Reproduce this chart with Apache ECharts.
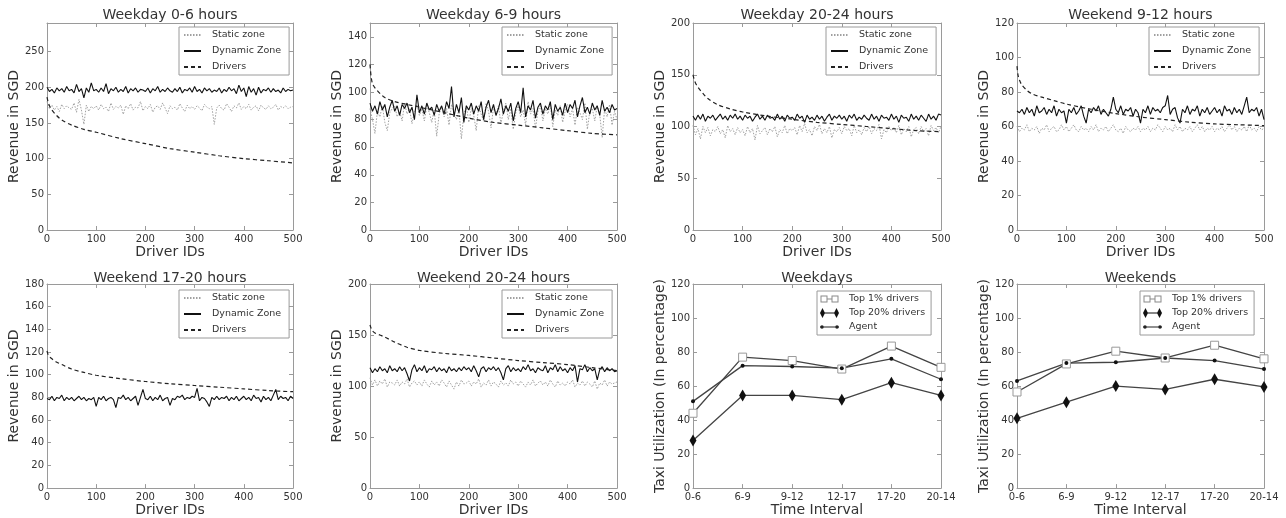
<!DOCTYPE html>
<html><head><meta charset="utf-8">
<script src="https://cdn.jsdelivr.net/npm/echarts@6/dist/echarts.min.js"></script>
<style>html,body{margin:0;padding:0;background:#fff}#c{width:1286px;height:518px}</style>
</head><body><div id="c"></div><script>
// ---------- DATA ----------
const driverIds = [0,5,10,15,20,25,30,35,40,45,50,55,60,65,70,75,80,85,90,95,100,105,110,115,120,125,130,135,140,145,150,155,160,165,170,175,180,185,190,195,200,205,210,215,220,225,230,235,240,245,250,255,260,265,270,275,280,285,290,295,300,305,310,315,320,325,330,335,340,345,350,355,360,365,370,375,380,385,390,395,400,405,410,415,420,425,430,435,440,445,450,455,460,465,470,475,480,485,490,495,500];
const driverCurveIds = [0,2,5,10,20,30,50,75,100,150,200,250,300,350,400,450,500];

const wd06Static = [180,170,175,168,173,166,176,170,174,171, 169,178,165,183,168,148,175,166,173,170, 174,168,176,170,172,166,178,169,173,171, 175,162,174,170,177,168,172,171,180,167, 173,170,176,165,172,174,169,178,171,163, 174,170,172,168,177,171,166,175,170,173, 169,174,171,167,176,172,170,173,148,171, 175,170,168,177,172,166,174,171,178,169, 173,170,176,168,172,174,167,175,171,169, 174,170,172,176,168,173,171,174,170,172, 173];
const wd06Dynamic = [200,194,197,192,199,195,198,193,201,195, 197,192,204,194,198,185,199,193,206,195, 197,193,199,194,205,191,198,195,200,193, 197,194,201,192,198,195,199,193,197,196, 194,199,192,198,195,201,193,197,194,199, 195,193,198,194,200,192,197,195,199,193, 201,194,197,192,199,195,198,193,196,194, 199,192,197,194,200,195,198,191,203,194, 199,187,201,193,198,189,200,192,197,195, 199,193,198,194,196,192,199,194,197,195, 196];
const wd06Drivers = [186,180,174,168,160,154,147,141,137,128,121,114,109,104,100,97,94];

const wd69Static = [88,80,70,86,82,90,78,72,85,88, 90,82,86,79,92,84,88,77,86,91, 83,88,79,90,85,78,87,68,84,89, 82,88,76,91,85,80,87,66,84,90, 78,88,83,72,90,84,79,92,86,74, 89,83,90,77,86,92,80,88,73,85, 90,82,87,76,93,84,88,74,86,90, 79,88,84,91,75,87,83,90,78,86, 91,82,88,76,89,85,80,92,73,86, 88,79,90,84,67,88,82,91,76,86, 80];
const wd69Dynamic = [92,86,90,84,93,87,91,82,89,94, 86,90,83,91,88,92,85,89,80,98, 85,90,84,92,87,89,83,91,86,90, 84,93,88,104,82,91,85,96,78,90, 87,92,84,90,86,93,80,89,94,85, 91,83,88,95,84,90,86,92,79,88, 93,85,103,82,90,87,94,81,89,92, 84,90,87,93,80,91,86,89,83,92, 85,91,88,94,82,90,96,85,89,84, 92,87,90,83,94,86,89,85,91,87, 88];
const wd69Drivers = [120,112,106,103,99,96,93,91,89,85,81,78,76,74,72,70,69];

const wd2024Static = [101,92,98,88,100,94,99,91,97,95, 100,93,97,89,101,95,98,92,99,94, 97,91,100,94,98,87,101,93,96,99, 92,98,95,100,90,97,94,101,93,98, 96,99,92,101,95,103,94,97,91,100, 96,102,93,98,94,100,89,97,95,99, 93,100,96,98,91,101,94,97,92,99, 95,100,93,98,96,102,88,97,94,100, 96,99,94,101,92,98,95,100,90,97, 99,93,100,95,98,91,101,96,99,94, 100];
const wd2024Dynamic = [110,106,111,107,112,105,110,108,111,106, 109,112,107,110,106,111,108,112,107,110, 106,111,108,110,105,109,112,107,110,106, 111,108,109,106,112,107,110,105,111,108, 109,106,112,108,110,104,111,107,109,106, 111,107,110,105,109,112,106,110,108,111, 107,110,105,111,108,112,106,109,107,111, 108,106,112,107,110,105,111,108,109,106, 112,107,110,104,111,108,109,105,112,107, 110,106,111,108,105,112,107,110,106,112, 111];
const wd2024Drivers = [150,146,142,138,132,127,121,117,114,110,107,104,102,100,98,96,95];

const we912Static = [60,57,59,58,61,57,59,58,60,56, 59,58,61,57,59,60,57,58,61,58, 60,57,59,61,58,57,60,58,59,57, 60,58,61,57,59,58,60,57,59,61, 58,57,59,56,60,58,57,59,58,60, 57,59,58,60,57,59,58,61,59,57, 60,58,59,57,61,58,60,57,59,58, 60,57,59,61,58,60,57,59,58,60, 57,59,58,60,57,59,61,58,60,57, 59,58,60,57,61,58,59,57,60,58, 59];
const we912Dynamic = [69,68,70,67,71,68,70,66,72,68, 69,71,67,70,68,72,66,70,68,69, 62,70,68,71,67,69,72,66,62,70, 68,71,69,72,67,70,68,66,70,77, 70,68,72,67,70,69,71,66,70,68, 62,70,68,72,67,71,69,70,68,71, 72,78,67,70,71,65,62,70,68,72, 67,70,69,72,66,70,68,71,67,69, 71,68,70,66,72,69,70,67,71,68, 70,67,72,77,68,70,69,71,66,70, 64];
const we912Drivers = [95,90,87,84,81,79,77,75,73,70,67.5,65.5,64,62.5,61.5,61,60.5];

const we1720Dynamic = [79,78,81,77,80,79,82,77,80,78, 80,77,79,81,78,80,77,79,78,80, 72,80,78,81,77,79,80,78,71,80, 79,82,78,80,77,79,81,73,80,87, 79,78,81,77,80,78,82,77,79,80, 73,79,78,81,80,82,78,80,79,81, 80,88,77,80,79,76,72,80,78,81, 78,80,79,81,77,80,78,81,77,79, 81,78,80,77,82,79,80,76,81,78, 80,77,82,87,78,81,79,80,77,81, 79];
const we1720Drivers = [121,118,116,114,111,109,105,102,99.5,96.5,94,92,90.5,89,87.5,86,85];

const we2024Static = [108,101,106,100,105,102,107,99,104,103, 101,106,100,104,102,107,99,103,105,101, 104,100,106,102,99,105,101,104,100,106, 103,99,105,101,97,104,100,106,102,103, 105,100,104,102,107,99,103,101,106,100, 104,102,99,105,101,103,100,106,102,104, 100,105,102,99,104,101,106,100,103,105, 101,104,100,106,102,99,105,101,103,100, 104,102,106,99,103,101,105,100,104,102, 99,105,97,103,101,106,100,104,102,103, 104];
const we2024Dynamic = [118,113,117,114,119,115,117,113,120,115, 117,114,119,115,118,112,105,116,121,114, 118,115,120,113,117,116,119,114,118,115, 117,113,119,115,117,114,118,115,119,116, 118,114,120,115,109,117,119,114,118,116, 119,115,118,113,106,117,120,114,118,115, 117,114,119,116,121,115,117,113,118,116, 115,120,113,118,116,121,114,119,115,117, 113,118,115,120,104,117,116,121,114,118, 115,117,106,116,119,114,118,115,117,114, 115];
const we2024Drivers = [160,157,154,152,150,148,143,138,135,132,130,127.5,125,123,121,118,115];

const timeIntervals = ['0-6','6-9','9-12','12-17','17-20','20-14'];
const wdTop1 = [44,77,75,70,83.5,71];
const wdTop20 = [28,54.5,54.5,52,62,54.5];
const wdAgent = [51,72,71.5,70.5,76,64];
const weTop1 = [56.5,73,80.5,76.5,84,76];
const weTop20 = [41,50.5,60,58,64,59.5];
const weAgent = [63,73.5,74,76.5,75,70];

// ---------- CHART ----------
const FONT = 'DejaVu Sans';
const FRAME = '#9a9a9a';
const INK = '#333';
const chart = echarts.init(document.getElementById('c'), null, {renderer:'canvas'});

// two-point legend glyphs (matplotlib numpoints=2 look)
const ICON_TOP1 = 'path://M0,0M19,10M0.5,1.5H7.5V8.5H0.5ZM1.5,2.5V7.5H6.5V2.5ZM7.5,4.5H11.5V5.5H7.5ZM11.5,1.5H18.5V8.5H11.5ZM12.5,2.5V7.5H17.5V2.5Z';
const ICON_TOP20 = 'path://M0,0M19,10M2.5,0L5,5L2.5,10L0,5ZM16.5,0L19,5L16.5,10L14,5ZM4,4.5H15V5.5H4Z';
const ICON_AGENT = 'path://M0,0M19,10M0,4.5H19V5.5H0ZM0.2,5A1.8,1.8,0,1,1,3.8,5A1.8,1.8,0,1,1,0.2,5ZM15.2,5A1.8,1.8,0,1,1,18.8,5A1.8,1.8,0,1,1,15.2,5Z';

const boxes = [
  {left:47, top:23, width:246, height:207, lg:[179,27]},
  {left:370, top:23, width:247, height:207, lg:[502,27]},
  {left:693, top:23, width:248, height:207, lg:[826,27]},
  {left:1017, top:23, width:247, height:207, lg:[1149,27]},
  {left:47, top:284, width:246, height:207, lg:[179,290]},
  {left:370, top:284, width:247, height:207, lg:[502,290]},
  {left:693, top:284, width:248, height:207, lg:[817,291]},
  {left:1017, top:284, width:247, height:207, lg:[1140,291]}
];

const panels = [
  {kind:'rev', title:'Weekday 0-6 hours', yMax:290, yInt:50, stat:wd06Static, dyn:wd06Dynamic, drv:wd06Drivers},
  {kind:'rev', title:'Weekday 6-9 hours', yMax:150, yInt:20, stat:wd69Static, dyn:wd69Dynamic, drv:wd69Drivers},
  {kind:'rev', title:'Weekday 20-24 hours', yMax:200, yInt:50, stat:wd2024Static, dyn:wd2024Dynamic, drv:wd2024Drivers},
  {kind:'rev', title:'Weekend 9-12 hours', yMax:120, yInt:20, stat:we912Static, dyn:we912Dynamic, drv:we912Drivers},
  {kind:'rev', title:'Weekend 17-20 hours', yMax:180, yInt:20, stat:null, dyn:we1720Dynamic, drv:we1720Drivers},
  {kind:'rev', title:'Weekend 20-24 hours', yMax:200, yInt:50, stat:we2024Static, dyn:we2024Dynamic, drv:we2024Drivers},
  {kind:'util', title:'Weekdays', yMax:120, yInt:20, top1:wdTop1, top20:wdTop20, agent:wdAgent},
  {kind:'util', title:'Weekends', yMax:120, yInt:20, top1:weTop1, top20:weTop20, agent:weAgent}
];

const grid=[], xAxis=[], yAxis=[], series=[], legend=[], graphic=[];
const nameStyle = {fontFamily:FONT, fontSize:14, color:INK};
const labStyle = {fontFamily:FONT, fontSize:10, color:INK};

function common(){
  return {
    axisLine:{show:true, onZero:false, lineStyle:{color:FRAME, width:1}},
    axisTick:{show:true, inside:true, length:4, lineStyle:{color:FRAME}},
    splitLine:{show:false}
  };
}

panels.forEach((p,i)=>{
  const b = boxes[i];
  const row2 = i >= 4;
  grid.push({left:b.left, top:b.top, width:b.width, height:b.height, containLabel:false, show:false});
  const isRev = p.kind === 'rev';
  const xBase = isRev
    ? {type:'value', min:0, max:500, interval:100}
    : {type:'category', data:timeIntervals, boundaryGap:false};
  xAxis.push(Object.assign({}, common(), xBase, {
    gridIndex:i, position:'bottom',
    axisLabel:Object.assign({margin:4, interval:0}, labStyle),
    name: isRev ? 'Driver IDs' : 'Time Interval',
    nameLocation:'middle', nameGap: row2 ? 7 : 10, nameTextStyle:nameStyle
  }));
  if (!isRev) xAxis[xAxis.length-1].axisTick.interval = 0;
  xAxis.push(Object.assign({}, common(), xBase, {gridIndex:i, position:'top', axisLabel:{show:false}}));
  if (!isRev) xAxis[xAxis.length-1].axisTick.interval = 0;
  const yBase = {type:'value', min:0, max:p.yMax, interval:p.yInt};
  yAxis.push(Object.assign({}, common(), yBase, {
    gridIndex:i, position:'left',
    axisLabel:Object.assign({margin:3, formatter:v => (v % p.yInt === 0 ? String(v) : '')}, labStyle),
    name: isRev ? 'Revenue in SGD' : 'Taxi Utilization (In percentage)',
    nameLocation:'middle', nameGap: isRev ? 21 : 20, nameTextStyle:nameStyle
  }));
  yAxis.push(Object.assign({}, common(), yBase, {gridIndex:i, position:'right', axisLabel:{show:false}}));

  graphic.push({type:'text', x:b.left + b.width/2, y:b.top - (row2 ? 6 : 8),
    style:{text:p.title, font:'14px "DejaVu Sans"', fill:INK, align:'center', verticalAlign:'middle', textAlign:'center', textVerticalAlign:'middle'}, z:10});

  const xi = 2*i, yi = 2*i;
  if (isRev) {
    if (p.stat) series.push({name:'Static zone', type:'line', xAxisIndex:xi, yAxisIndex:yi, symbol:'none',
      data: driverIds.map((x,k)=>[x, p.stat[k]]), lineStyle:{color:'#a0a0a0', width:1, type:[1.5,1.5]}, itemStyle:{color:'#a0a0a0'}, animation:false, z:1});
    series.push({name:'Dynamic Zone', type:'line', xAxisIndex:xi, yAxisIndex:yi, symbol:'none',
      data: driverIds.map((x,k)=>[x, p.dyn[k]]), lineStyle:{color:'#111', width:1.1}, itemStyle:{color:'#111'}, animation:false, z:2});
    series.push({name:'Drivers', type:'line', xAxisIndex:xi, yAxisIndex:yi, symbol:'none', smooth:0.3,
      data: driverCurveIds.map((x,k)=>[x, p.drv[k]]), lineStyle:{color:'#222', width:1.2, type:[4,3]}, itemStyle:{color:'#222'}, animation:false, z:3});
    legend.push({data:['Static zone','Dynamic Zone','Drivers'], orient:'vertical', left:b.lg[0], top:b.lg[1],
      padding:[3,8,3,4], itemGap:6, itemWidth:17, itemHeight:10, borderColor:FRAME, borderWidth:1, selectedMode:false,
      itemStyle:{opacity:0, borderWidth:0},
      textStyle:{fontFamily:FONT, fontSize:9.5, color:INK, padding:[0,0,0,6]}});
  } else {
    series.push({name:'Top 1% drivers', type:'line', xAxisIndex:xi, yAxisIndex:yi, data:p.top1, symbol:'rect', symbolSize:8,
      lineStyle:{color:'#444', width:1.3}, itemStyle:{color:'#fff', borderColor:'#999', borderWidth:1}, animation:false, clip:false});
    series.push({name:'Top 20% drivers', type:'line', xAxisIndex:xi, yAxisIndex:yi, data:p.top20, symbol:'diamond', symbolSize:[7,12],
      lineStyle:{color:'#444', width:1.3}, itemStyle:{color:'#111'}, animation:false});
    series.push({name:'Agent', type:'line', xAxisIndex:xi, yAxisIndex:yi, data:p.agent, symbol:'circle', symbolSize:4,
      lineStyle:{color:'#444', width:1.3}, itemStyle:{color:'#111'}, animation:false});
    legend.push({data:[
        {name:'Top 1% drivers', icon:ICON_TOP1, itemStyle:{color:'#8a8a8a', borderWidth:0}},
        {name:'Top 20% drivers', icon:ICON_TOP20, itemStyle:{color:'#111', borderWidth:0}},
        {name:'Agent', icon:ICON_AGENT, itemStyle:{color:'#222', borderWidth:0}}],
      orient:'vertical', left:b.lg[0], top:b.lg[1],
      padding:[3,6,3,3], itemGap:4, itemWidth:19, itemHeight:10, borderColor:FRAME, borderWidth:1, selectedMode:false,
      textStyle:{fontFamily:FONT, fontSize:9.5, color:INK, padding:[0,0,0,5]}});
  }
});

chart.setOption({backgroundColor:'#fff', animation:false, grid, xAxis, yAxis, series, legend, graphic});
</script></body></html>
